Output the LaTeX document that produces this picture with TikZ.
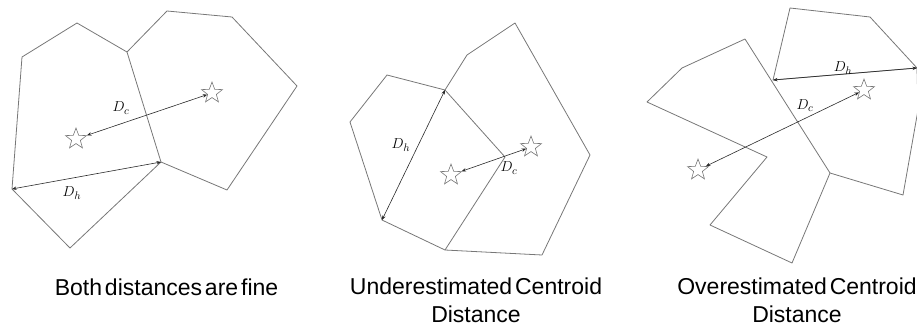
\documentclass[tikz,border=0pt]{standalone}
\usepackage{fontspec}
\setmainfont{Liberation Sans}
\newfontfamily\capfont{Liberation Sans}[WordSpace=0.45]
\usetikzlibrary{arrows.meta,shapes.geometric}
\definecolor{edge}{HTML}{777777}
\definecolor{arr}{HTML}{2A2A2A}
\begin{document}
\begin{tikzpicture}[x=1pt,y=-1pt,
  cell/.style={draw=edge,line width=0.8pt,line join=round},
  dist/.style={draw=arr,line width=0.6pt,{Stealth[length=4.5pt,width=3.5pt]}-{Stealth[length=4.5pt,width=3.5pt]}},
  cstar/.style={star,star points=5,star point ratio=2.4,draw=edge,line width=0.6pt,minimum size=22pt,inner sep=0pt},
  lbl/.style={font=\fontsize{15}{17}\selectfont,inner sep=0pt},
  captext/.style={font=\capfont\fontsize{23}{28}\selectfont,align=center,inner sep=0pt}]
\useasboundingbox (0,0) rectangle (917,326);
% ---------- panel 1 ----------
\coordinate (a1) at (22,57);
\coordinate (a2) at (77,23);
\coordinate (a3) at (127,52);
\coordinate (a4) at (161,162);
\coordinate (a5) at (70,248);
\coordinate (a6) at (12,189);
\coordinate (b2) at (167,11);
\coordinate (b3) at (232,17);
\coordinate (b4) at (297,86);
\coordinate (b5) at (227,190);
\draw[cell] (a1)--(a2)--(a3)--(a4)--(a5)--(a6)--cycle;
\draw[cell] (a3)--(b2)--(b3)--(b4)--(b5)--(a4);
\node[cstar] (s1l) at (76,139) {};
\node[cstar] (s1r) at (212,93) {};
\draw[dist] (s1l) -- (s1r);
\draw[dist] (a6) -- (a4);
\node[lbl] (dc1) at (121,108) {$D_c$};
\node[lbl] (dh1) at (72,193) {$D_h$};
% ---------- panel 2 ----------
\coordinate (c1) at (350,122);
\coordinate (c2) at (387,75);
\coordinate (c3) at (445,90);
\coordinate (c4) at (505,157);
\coordinate (c5) at (445,250);
\coordinate (c6) at (382,220);
\coordinate (d2) at (467,55);
\coordinate (d3) at (515,23);
\coordinate (d4) at (590,155);
\coordinate (d5) at (542,255);
\draw[cell] (c1)--(c2)--(c3)--(c4)--(c5)--(c6)--cycle;
\draw[cell] (c3)--(d2)--(d3)--(d4)--(d5)--(c5);
\node[cstar] (s2l) at (451,175) {};
\node[cstar] (s2r) at (531,147) {};
\draw[dist] (s2l) -- (s2r);
\draw[dist] (c3) -- (c6);
\node[lbl] (dh2) at (401,145) {$D_h$};
\node[lbl] (dc2) at (509,168) {$D_c$};
% ---------- panel 3 ----------
\coordinate (e1) at (745,39);
\coordinate (e2) at (682,68);
\coordinate (e3) at (647,102);
\coordinate (e4) at (767,157);
\coordinate (e5) at (710,225);
\coordinate (e6) at (792,263);
\coordinate (e7) at (830,173);
\coordinate (f1) at (790,8);
\coordinate (f2) at (870,17);
\coordinate (f3) at (917,68);
\coordinate (f4) at (773,80);
\coordinate (g1) at (918,110);
\coordinate (g2) at (903,195);
\draw[cell] (e1)--(e2)--(e3)--(e4)--(e5)--(e6)--(e7)--cycle;
\draw[cell] (f4)--(f1)--(f2)--(f3)--cycle;
\draw[cell] (f3)--(g1)--(g2)--(e7);
\node[cstar] (s3l) at (698,170) {};
\node[cstar] (s3r) at (864,90) {};
\draw[dist] (s3l) -- (s3r);
\draw[dist] (f3) -- (f4);
\node[lbl] (dh3) at (843,68) {$D_h$};
\node[lbl] (dc3) at (805,106) {$D_c$};
% ---------- captions ----------
\node[captext,anchor=base] (t1) at (166.5,295) {Both distances are fine};
\node[captext,anchor=base] (t2) at (476,322) {Underestimated Centroid\\Distance};
\node[captext,anchor=base] (t3) at (797,322) {Overestimated Centroid\\Distance};
\end{tikzpicture}
\end{document}
